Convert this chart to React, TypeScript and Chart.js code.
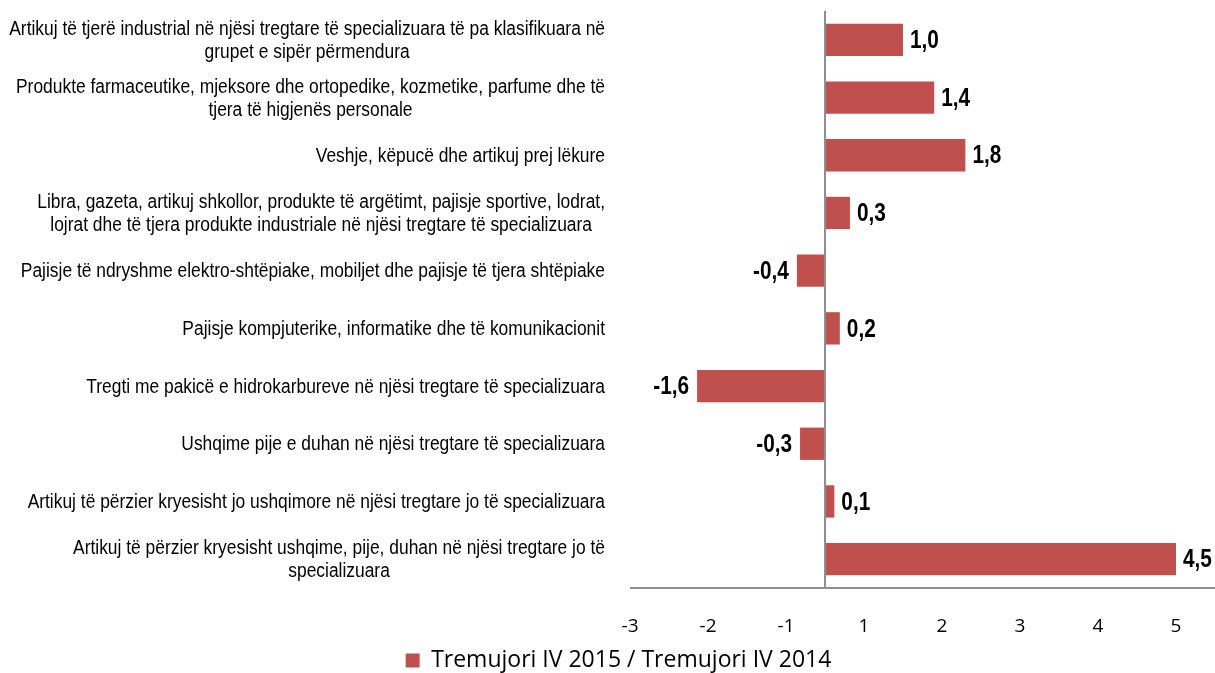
import React, { useEffect, useRef } from 'react';
import { Chart, registerables } from 'chart.js';

Chart.register(...registerables);

const categories: string[][] = [
  ['Artikuj të tjerë industrial në njësi tregtare të specializuara të pa klasifikuara në', 'grupet e sipër përmendura'],
  ['Produkte farmaceutike, mjeksore dhe ortopedike, kozmetike, parfume dhe të', 'tjera të higjenës personale'],
  ['Veshje, këpucë dhe artikuj prej lëkure'],
  ['Libra, gazeta, artikuj shkollor, produkte të argëtimt, pajisje sportive, lodrat,', 'lojrat dhe të tjera produkte industriale në njësi tregtare të specializuara'],
  ['Pajisje të ndryshme elektro-shtëpiake, mobiljet dhe pajisje të tjera shtëpiake'],
  ['Pajisje kompjuterike, informatike dhe të komunikacionit'],
  ['Tregti me pakicë e hidrokarbureve në njësi tregtare të specializuara'],
  ['Ushqime pije e duhan në njësi tregtare të specializuara'],
  ['Artikuj të përzier kryesisht jo ushqimore në njësi tregtare jo të specializuara'],
  ['Artikuj të përzier kryesisht ushqime, pije, duhan në njësi tregtare jo të', 'specializuara'],
];

const seriesName = 'Tremujori IV 2015 / Tremujori IV 2014';
const values = [1.0, 1.4, 1.8, 0.32, -0.36, 0.19, -1.64, -0.32, 0.12, 4.5];

const tickPositions = [-2.5, -1.5, -0.5, 0.5, 1.5, 2.5, 3.5, 4.5];
const tickLabels = ['-3', '-2', '-1', '1', '2', '3', '4', '5'];

const BAR_COLOR = '#C0504D';
const AXIS_COLOR = '#8f8f8f';

const fmt = (v: number) => (Math.round(v * 10) / 10).toFixed(1).replace('.', ',');

function drawScaled(ctx: any, text: string, x: number, y: number, sx: number) {
  ctx.save();
  ctx.translate(x, y);
  ctx.scale(sx, 1);
  ctx.fillText(text, 0, 0);
  ctx.restore();
}

const overlay = {
  id: 'overlay',
  afterDatasetsDraw(chart: any) {
    const { ctx, chartArea, scales } = chart;
    const xs = scales.x;
    const ys = scales.y;
    ctx.save();
    // axis lines
    ctx.strokeStyle = AXIS_COLOR;
    ctx.lineWidth = 2;
    const x0 = Math.round(xs.getPixelForValue(0));
    ctx.beginPath();
    ctx.moveTo(x0, chartArea.top);
    ctx.lineTo(x0, chartArea.bottom);
    ctx.stroke();
    ctx.beginPath();
    ctx.moveTo(chartArea.left, chartArea.bottom);
    ctx.lineTo(chartArea.right, chartArea.bottom);
    ctx.stroke();

    // category labels (lines centred within a right-aligned block), narrow style
    const catScale = 0.87;
    ctx.font = '20px "Liberation Sans", Arial, sans-serif';
    ctx.fillStyle = '#000';
    ctx.textAlign = 'center';
    ctx.textBaseline = 'middle';
    const labelRight = chartArea.left - 25;
    categories.forEach((lines, i) => {
      const cy = ys.getPixelForValue(i) + 1;
      const w = Math.max(...lines.map((l) => ctx.measureText(l).width)) * catScale;
      const cx = labelRight - w / 2;
      const lh = 23;
      lines.forEach((l, j) => drawScaled(ctx, l, cx, cy + (j - (lines.length - 1) / 2) * lh, catScale));
    });

    // value labels
    const valScale = 0.8;
    ctx.font = 'bold 26px "Liberation Sans", Arial, sans-serif';
    const meta = chart.getDatasetMeta(0);
    meta.data.forEach((bar: any, i: number) => {
      const v = values[i];
      if (v >= 0) {
        ctx.textAlign = 'left';
        drawScaled(ctx, fmt(v), bar.x + 7, bar.y + 1, valScale);
      } else {
        ctx.textAlign = 'right';
        drawScaled(ctx, fmt(v), bar.x - 8, bar.y + 1, valScale);
      }
    });
    ctx.restore();
  },
};

export default function App() {
  const ref = useRef<HTMLCanvasElement | null>(null);
  useEffect(() => {
    if (!ref.current) return;
    const chart = new Chart(ref.current, {
      type: 'bar',
      data: {
        labels: categories.map((c) => c.join(' ')),
        datasets: [
          {
            label: seriesName,
            data: values,
            backgroundColor: BAR_COLOR,
            borderWidth: 0,
            barPercentage: 0.56,
            categoryPercentage: 1,
          },
        ],
      },
      options: {
        indexAxis: 'y',
        animation: false,
        responsive: true,
        maintainAspectRatio: false,
        layout: { padding: { top: 11, right: 0, left: 22, bottom: -9 } },
        scales: {
          x: {
            type: 'linear',
            min: -2.5,
            max: 5,
            afterBuildTicks: (s: any) => {
              s.ticks = tickPositions.map((v) => ({ value: v }));
            },
            afterFit: (s: any) => {
              s.height = 61;
            },
            grid: { display: false, drawTicks: false },
            border: { display: false },
            ticks: {
              padding: 27,
              color: '#000',
              font: { family: '"Open Sans"', size: 19 },
              callback: (_v: any, i: number) => tickLabels[i],
              maxRotation: 0,
              autoSkip: false,
            },
          },
          y: {
            type: 'category',
            grid: { display: false },
            border: { display: false },
            ticks: { display: false },
            afterFit: (s: any) => {
              s.width = 608;
            },
          },
        },
        plugins: {
          legend: {
            position: 'bottom',
            labels: {
              boxWidth: 14,
              boxHeight: 14,
              color: '#000',
              font: { family: '"Open Sans"', size: 23, lineHeight: 1 },
              padding: 0,
            },
          },
          tooltip: { enabled: false },
        },
      },
      plugins: [overlay],
    });
    return () => chart.destroy();
  }, []);
  return (
    <div style={{ position: 'fixed', left: 0, top: 0, width: 1215, height: 673 }}>
      <canvas ref={ref} />
    </div>
  );
}
